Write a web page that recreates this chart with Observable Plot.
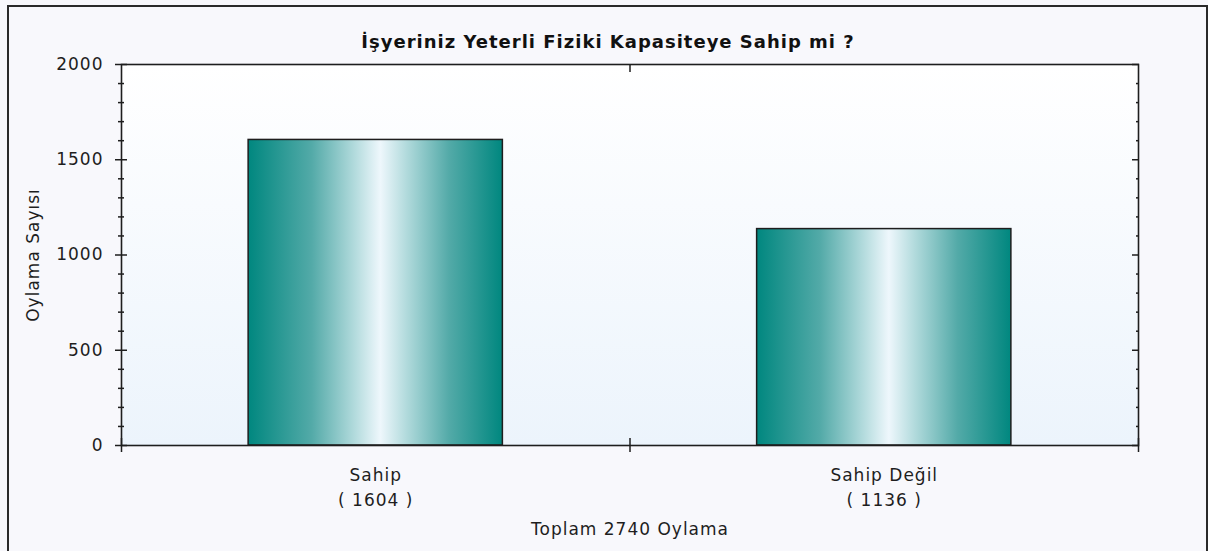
<!DOCTYPE html>
<html>
<head>
<meta charset="utf-8">
<script src="https://cdn.jsdelivr.net/npm/d3@7"></script>
<script src="https://cdn.jsdelivr.net/npm/@observablehq/plot@0.6"></script>
<style>
  html, body { margin: 0; padding: 0; background: #f8f8fc; }
  #wrap { position: relative; width: 1208px; height: 551px; overflow: hidden; }
  #border { position: absolute; left: 7px; top: 5px; width: 1201px; height: 600px; box-sizing: border-box; border: 2px solid #2a2a2a; pointer-events: none; }
  svg text { letter-spacing: 1px; }
</style>
</head>
<body>
<div id="wrap"><div id="border"></div></div>
<script>
const title = "İşyeriniz Yeterli Fiziki Kapasiteye Sahip mi ?";
const yLabel = "Oylama Sayısı";
const categories = ["Sahip", "Sahip Değil"];
const values = [1604, 1136];
const yDomain = [0, 2000];
const majorTicks = [0, 500, 1000, 1500, 2000];
const minorTicks = [100, 200, 300, 400, 600, 700, 800, 900, 1100, 1200, 1300, 1400, 1600, 1700, 1800, 1900];

const total = d3.sum(values);
const rows = categories.map((c, i) => ({category: c, value: values[i], i0: i + 0.25, i1: i + 0.75, mid: i + 0.5}));
const boundaries = d3.range(categories.length + 1);
const centers = rows.map(r => r.mid);
const labelOf = new Map(rows.map(r => [r.mid, `${r.category}\n( ${r.value} )`]));

const ink = "#1e1e1e";
const blank = () => "";
const tickOpts = {tickFormat: blank, stroke: ink, strokeWidth: 1.5, label: null};

const chart = Plot.plot({
  width: 1208,
  height: 551,
  marginLeft: 121,
  marginRight: 70,
  marginTop: 64,
  marginBottom: 106,
  style: {fontFamily: "'DejaVu Sans', sans-serif", fontSize: "17px", background: "transparent", color: ink},
  x: {domain: [0, categories.length], axis: null, label: null},
  y: {domain: yDomain, axis: null, label: null},
  marks: [
    Plot.frame({fill: "url(#plotBg)", stroke: null}),
    Plot.rectY(rows, {x1: "i0", x2: "i1", y: "value", fill: "url(#barGrad)", stroke: ink, strokeWidth: 1.5}),
    Plot.frame({stroke: ink, strokeWidth: 1.6}),
    // left axis
    Plot.axisY(majorTicks, {anchor: "left", tickSize: 6, tickPadding: 12, stroke: ink, strokeWidth: 1.5, fill: ink, label: null, tickFormat: d3.format("d")}),
    Plot.axisY(majorTicks, {anchor: "left", tickSize: -6, ...tickOpts}),
    Plot.axisY(minorTicks, {anchor: "left", tickSize: 3, ...tickOpts}),
    Plot.axisY(minorTicks, {anchor: "left", tickSize: -3, ...tickOpts}),
    // right axis (inward ticks)
    Plot.axisY(majorTicks, {anchor: "right", tickSize: -7, ...tickOpts}),
    Plot.axisY(minorTicks, {anchor: "right", tickSize: -3, ...tickOpts}),
    // bottom axis boundary ticks
    Plot.axisX(boundaries, {anchor: "bottom", tickSize: 7, ...tickOpts}),
    Plot.axisX(boundaries, {anchor: "bottom", tickSize: -7, ...tickOpts}),
    Plot.axisX(boundaries.slice(1, -1), {anchor: "top", tickSize: -7, ...tickOpts}),
    // category labels
    Plot.axisX(centers, {anchor: "bottom", tickSize: 0, tickPadding: 17, tickFormat: d => labelOf.get(d), lineHeight: 1.5, fill: ink, label: null}),
    // texts
    Plot.text([title], {frameAnchor: "top", dx: -22, dy: -29, fontWeight: "bold", fontSize: 18, fill: "#111"}),
    Plot.text([yLabel], {frameAnchor: "left", textAnchor: "middle", rotate: -90, dx: -88, fill: ink}),
    Plot.text([`Toplam ${total} Oylama`], {frameAnchor: "bottom", dy: 89, fill: ink})
  ]
});

const svg = d3.select(chart);
const defs = svg.insert("defs", ":first-child");
const bg = defs.append("linearGradient").attr("id", "plotBg").attr("x1", 0).attr("y1", 0).attr("x2", 0).attr("y2", 1);
bg.append("stop").attr("offset", 0).attr("stop-color", "#ffffff");
bg.append("stop").attr("offset", 1).attr("stop-color", "#ecf4fc");
const bar = defs.append("linearGradient").attr("id", "barGrad").attr("x1", 0).attr("y1", 0).attr("x2", 1).attr("y2", 0);
[[0, "#00877f"], [0.25, "#53aaa8"], [0.42, "#b3dbdd"], [0.52, "#eef7fc"], [0.62, "#b3dbdd"], [0.79, "#53aaa8"], [1, "#00877f"]]
  .forEach(([o, c]) => bar.append("stop").attr("offset", o).attr("stop-color", c));

document.getElementById("wrap").prepend(chart);
</script>
</body>
</html>
